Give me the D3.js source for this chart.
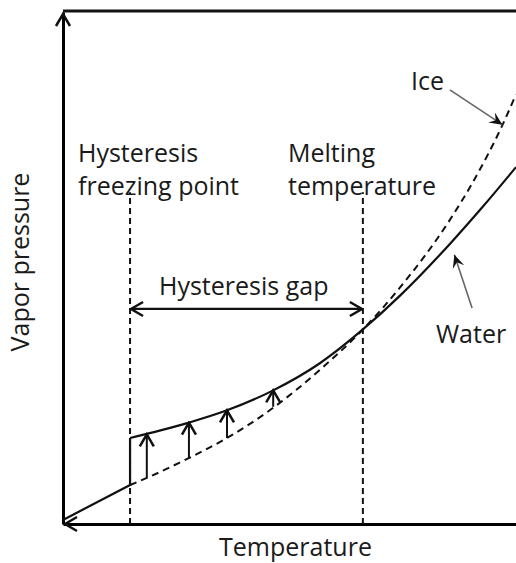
<!DOCTYPE html>
<html>
<head>
<meta charset="utf-8">
<script src="https://cdn.jsdelivr.net/npm/d3@7"></script>
<style>
  body { margin: 0; background: #fff; }
  text { font-family: "Open Sans", sans-serif; fill: #1a1a1a; }
</style>
</head>
<body>
<div id="chart"></div>
<script>
// values (arbitrary units, 0-100 on both axes)
const waterT = [14.8, 27.4, 36.2, 46.4, 56.7, 66.2, 74.4, 85.4, 92.7, 100];
const waterP = [16.8, 19.7, 22.2, 26.1, 31.4, 38.0, 44.6, 54.7, 62.0, 69.7];

const iceT = [14.8, 18.5, 27.4, 36.2, 46.4, 56.7, 66.2, 74.4, 85.4, 90.3, 97.1, 100];
const iceP = [7.6, 9.0, 12.7, 16.8, 22.7, 30.1, 38.0, 46.2, 59.4, 66.5, 78.1, 83.9];

// solid ice branch below the hysteresis freezing point
const lowT = [0, 14.8];
const lowP = [0.8, 7.6];

// small arrows from ice to water
const liftT = [18.5, 27.8, 36.2, 46.4];
const liftFrom = [9.0, 12.9, 16.8, 22.9];
const liftTo = [17.5, 19.8, 22.2, 26.1];

const freezeT = 14.8;
const meltT = 66.2;
const guideTop = 64.8;
const gapP = 42.0;

const width = 516, height = 563;
const margin = { left: 63, right: 0, top: 12, bottom: 39 };

const svg = d3.select("#chart")
    .append("svg")
    .attr("width", width)
    .attr("height", height);

const x = d3.scaleLinear()
    .domain([0, 100])
    .range([margin.left, width - margin.right]);

const y = d3.scaleLinear()
    .domain([0, 100])
    .range([height - margin.bottom, margin.top]);

const defs = svg.append("defs");

defs.append("marker")
    .attr("id", "chev")
    .attr("markerUnits", "userSpaceOnUse")
    .attr("viewBox", "-14 -9 16 18")
    .attr("refX", 0).attr("refY", 0)
    .attr("markerWidth", 16).attr("markerHeight", 18)
    .attr("orient", "auto-start-reverse")
    .append("path")
    .attr("d", "M-12,-7L0,0L-12,7")
    .attr("fill", "none")
    .attr("stroke", "#111")
    .attr("stroke-width", 2.5);

defs.append("marker")
    .attr("id", "barb")
    .attr("markerUnits", "userSpaceOnUse")
    .attr("viewBox", "-14 -8 16 16")
    .attr("refX", 0).attr("refY", 0)
    .attr("markerWidth", 16).attr("markerHeight", 16)
    .attr("orient", "auto")
    .append("path")
    .attr("d", "M-13,-6L0,0L-13,6L-8,0Z")
    .attr("fill", "#111");

// axes without ticks
svg.append("g")
    .attr("transform", `translate(0,${y(0)})`)
    .call(d3.axisBottom(x).ticks(0).tickSizeOuter(0))
    .select(".domain")
    .attr("stroke-width", 3);

svg.append("g")
    .attr("transform", `translate(${x(0)},0)`)
    .call(d3.axisLeft(y).ticks(0).tickSizeOuter(0))
    .select(".domain")
    .attr("stroke-width", 3);

// top frame line
svg.append("line")
    .attr("x1", x(0)).attr("x2", x(100))
    .attr("y1", y(100) - 1).attr("y2", y(100) - 1)
    .attr("stroke", "#111")
    .attr("stroke-width", 3);

// arrowheads on the axes
svg.append("line")
    .attr("x1", x(0)).attr("x2", x(0))
    .attr("y1", y(90)).attr("y2", y(100) + 2)
    .attr("stroke", "none")
    .attr("marker-end", "url(#chev)");
svg.append("line")
    .attr("x1", x(10)).attr("x2", x(0) + 2)
    .attr("y1", y(0)).attr("y2", y(0))
    .attr("stroke", "none")
    .attr("marker-end", "url(#chev)");

// vertical guides
svg.selectAll(".guide")
    .data([freezeT, meltT])
    .enter()
    .append("line")
    .attr("class", "guide")
    .attr("x1", d => x(d)).attr("x2", d => x(d))
    .attr("y1", y(0)).attr("y2", y(guideTop))
    .attr("stroke", "#111")
    .attr("stroke-width", 2)
    .attr("stroke-dasharray", "6,4");

// curves
const water = waterT.map((t, i) => [t, waterP[i]]);
const ice = iceT.map((t, i) => [t, iceP[i]]);
const low = lowT.map((t, i) => [t, lowP[i]]);

const line = d3.line()
    .x(d => x(d[0]))
    .y(d => y(d[1]))
    .curve(d3.curveMonotoneX);

svg.append("path")
    .attr("d", line(ice))
    .attr("fill", "none")
    .attr("stroke", "#111")
    .attr("stroke-width", 2)
    .attr("stroke-dasharray", "7,5");

svg.append("path")
    .attr("d", line(water))
    .attr("fill", "none")
    .attr("stroke", "#111")
    .attr("stroke-width", 2.2);

svg.append("path")
    .attr("d", d3.line().x(d => x(d[0])).y(d => y(d[1]))(low.concat([[freezeT, waterP[0]]])))
    .attr("fill", "none")
    .attr("stroke", "#111")
    .attr("stroke-width", 2.2);

// lift arrows
svg.selectAll(".lift")
    .data(liftT)
    .enter()
    .append("line")
    .attr("class", "lift")
    .attr("x1", d => x(d)).attr("x2", d => x(d))
    .attr("y1", (d, i) => y(liftFrom[i]))
    .attr("y2", (d, i) => y(liftTo[i]))
    .attr("stroke", "#111")
    .attr("stroke-width", 2)
    .attr("marker-end", "url(#chev)");

// hysteresis gap
svg.append("line")
    .attr("x1", x(freezeT) + 1).attr("x2", x(meltT) - 1)
    .attr("y1", y(gapP)).attr("y2", y(gapP))
    .attr("stroke", "#111")
    .attr("stroke-width", 2.2)
    .attr("marker-start", "url(#chev)")
    .attr("marker-end", "url(#chev)");

// label pointers
svg.append("line")
    .attr("x1", x(85.4)).attr("y1", y(84.8))
    .attr("x2", x(97.0)).attr("y2", y(78.0))
    .attr("stroke", "#666")
    .attr("stroke-width", 1.6)
    .attr("marker-end", "url(#barb)");

svg.append("line")
    .attr("x1", x(90.3)).attr("y1", y(42.2))
    .attr("x2", x(86.4)).attr("y2", y(52.6))
    .attr("stroke", "#666")
    .attr("stroke-width", 1.6)
    .attr("marker-end", "url(#barb)");

// texts
const fs = 25;
const labels = [
    { t: "Hysteresis", x: 78, y: 162 },
    { t: "freezing point", x: 78, y: 195 },
    { t: "Melting", x: 288, y: 162 },
    { t: "temperature", x: 288, y: 195 },
    { t: "Hysteresis gap", x: 159, y: 295 },
    { t: "Ice", x: 411, y: 90 },
    { t: "Water", x: 436, y: 343 }
];
svg.selectAll(".lbl")
    .data(labels)
    .enter()
    .append("text")
    .attr("class", "lbl")
    .attr("x", d => d.x)
    .attr("y", d => d.y)
    .attr("font-size", fs)
    .text(d => d.t);

svg.append("text")
    .attr("x", (x(0) + x(100)) / 2 + 6)
    .attr("y", 556)
    .attr("text-anchor", "middle")
    .attr("font-size", fs)
    .text("Temperature");

svg.append("text")
    .attr("transform", `translate(29,${262}) rotate(-90)`)
    .attr("text-anchor", "middle")
    .attr("font-size", fs)
    .text("Vapor pressure");
</script>
</body>
</html>
